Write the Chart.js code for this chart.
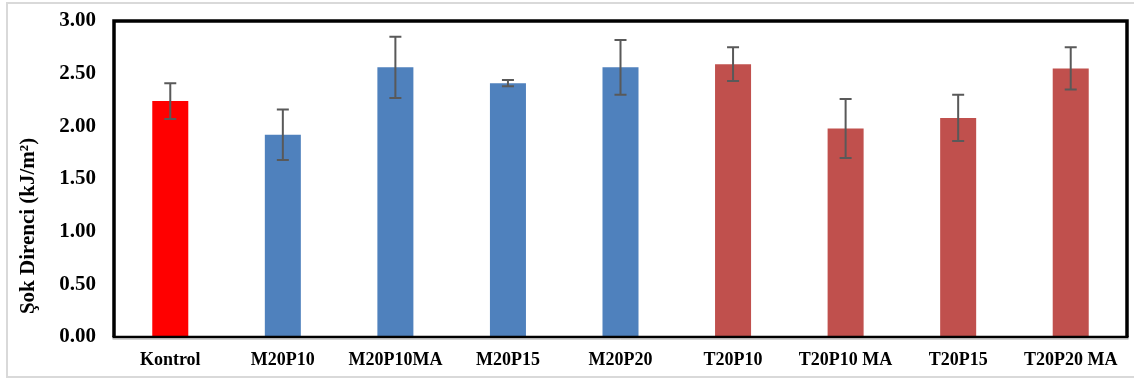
<!DOCTYPE html>
<html>
<head>
<meta charset="utf-8">
<script src="https://cdn.jsdelivr.net/npm/chart.js@4/dist/chart.umd.min.js"></script>
<style>
  html, body { margin: 0; padding: 0; background: #fff; }
  #wrap { position: relative; width: 1134px; height: 383px; overflow: hidden; }
  #frame { position: absolute; left: 6px; top: 2px; width: 1140px; height: 376px;
           border: 2px solid #d9d9d9; box-sizing: border-box; pointer-events: none; }
  canvas { position: absolute; left: 0; top: 0; }
</style>
</head>
<body>
<div id="wrap">
  <canvas id="c" width="1134" height="383"></canvas>
  <div id="frame"></div>
</div>
<script>
// Impact resistance per sample (kJ/m²) with standard deviation
const categories = ['Kontrol', 'M20P10', 'M20P10MA', 'M20P15', 'M20P20', 'T20P10', 'T20P10 MA', 'T20P15', 'T20P20 MA'];
const impactValues = [2.24, 1.92, 2.56, 2.41, 2.56, 2.59, 1.98, 2.08, 2.55];
const impactErrors = [0.17, 0.24, 0.29, 0.03, 0.26, 0.16, 0.28, 0.22, 0.20];
const yTicks = [0, 0.5, 1, 1.5, 2, 2.5, 3];
const yTitle = 'Şok Direnci (kJ/m²)';

const FONT = '"Liberation Serif", "Times New Roman", serif';

function barColor(label) {
  if (label === 'Kontrol') return '#ff0000';
  if (label.startsWith('M')) return '#4f81bd';
  return '#c0504d';
}

// Error bars drawn from the dataset through the y scale
const errorBars = {
  id: 'errorBars',
  afterDatasetsDraw(chart) {
    const ctx = chart.ctx;
    const y = chart.scales.y;
    const meta = chart.getDatasetMeta(0);
    ctx.save();
    ctx.strokeStyle = '#595959';
    ctx.lineWidth = 2;
    meta.data.forEach((bar, i) => {
      const v = impactValues[i], e = impactErrors[i];
      const yt = y.getPixelForValue(v + e);
      const yb = y.getPixelForValue(v - e);
      const x = bar.x;
      ctx.beginPath();
      ctx.moveTo(x, yt); ctx.lineTo(x, yb);
      ctx.moveTo(x - 6, yt); ctx.lineTo(x + 6, yt);
      ctx.moveTo(x - 6, yb); ctx.lineTo(x + 6, yb);
      ctx.stroke();
    });
    ctx.restore();
  }
};

// Heavy plot-area border and the rotated y-axis title
const plotFrame = {
  id: 'plotFrame',
  afterDraw(chart) {
    const { ctx, chartArea: a } = chart;
    ctx.save();
    ctx.strokeStyle = '#000';
    ctx.lineWidth = 3.5;
    ctx.beginPath();
    ctx.moveTo(a.left, a.bottom);
    ctx.lineTo(a.left, a.top);
    ctx.lineTo(a.right, a.top);
    ctx.lineTo(a.right, a.bottom);
    ctx.stroke();
    ctx.lineWidth = 2.5;
    ctx.beginPath();
    ctx.moveTo(a.left - 1.5, a.bottom);
    ctx.lineTo(a.right + 1.5, a.bottom);
    ctx.stroke();
    ctx.strokeStyle = '#a6a6a6';
    ctx.lineWidth = 1;
    ctx.beginPath();
    ctx.moveTo(a.left - 1.5, a.bottom + 2);
    ctx.lineTo(a.right + 1.5, a.bottom + 2);
    ctx.stroke();

    ctx.translate(29, 226);
    ctx.rotate(-Math.PI / 2);
    ctx.fillStyle = '#000';
    ctx.font = 'bold 21px ' + FONT;
    ctx.textAlign = 'center';
    ctx.textBaseline = 'middle';
    ctx.fillText(yTitle, 0, 0);
    ctx.restore();
  }
};

new Chart(document.getElementById('c'), {
  type: 'bar',
  data: {
    labels: categories,
    datasets: [{
      data: impactValues,
      backgroundColor: ctx => barColor(categories[ctx.dataIndex]),
      borderWidth: 0,
      barPercentage: 0.8,
      categoryPercentage: 0.4
    }]
  },
  options: {
    responsive: false,
    animation: false,
    layout: { padding: { left: 0, right: 7, top: 21, bottom: 0 } },
    plugins: { legend: { display: false }, tooltip: { enabled: false } },
    scales: {
      x: {
        grid: { display: false, drawTicks: false },
        border: { display: false },
        ticks: {
          color: '#000',
          font: { family: FONT, size: 18, weight: 'bold' },
          padding: 13,
          maxRotation: 0,
          autoSkip: false
        },
        afterFit: s => { s.height = 46; }
      },
      y: {
        min: 0,
        max: 3,
        grid: { display: false, drawTicks: false },
        border: { display: false },
        afterBuildTicks: s => { s.ticks = yTicks.map(v => ({ value: v })); },
        ticks: {
          color: '#000',
          font: { family: FONT, size: 21, weight: 'bold', lineHeight: 1 },
          padding: 18,
          callback: v => Number(v).toFixed(2)
        },
        afterFit: s => { s.width = 114; s.paddingTop = 0; s.paddingBottom = 0; }
      }
    }
  },
  plugins: [errorBars, plotFrame]
});
</script>
</body>
</html>
